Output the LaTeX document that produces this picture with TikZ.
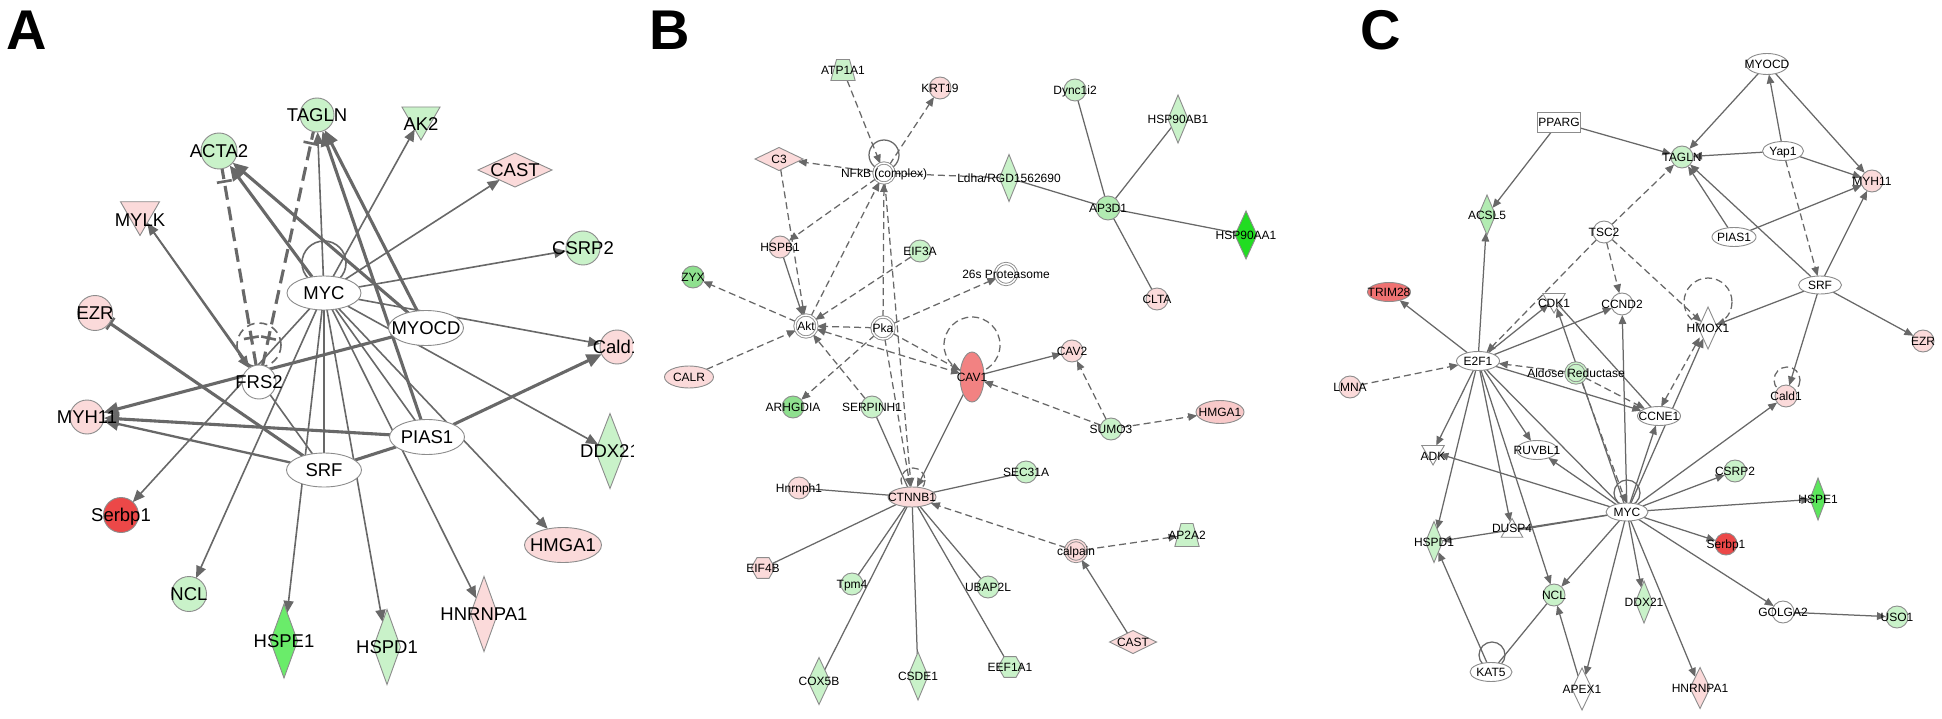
\documentclass[tikz,border=0pt]{standalone}
\usepackage{fontspec}
\setmainfont{Liberation Sans}
\usetikzlibrary{shapes.geometric,arrows.meta,backgrounds,calc}
\definecolor{lg}{HTML}{C9F2C9}
\definecolor{mg}{HTML}{8FE08F}
\definecolor{ag}{HTML}{B2EBB2}
\definecolor{hg}{HTML}{6AEC6A}
\definecolor{bgr}{HTML}{22DD22}
\definecolor{cg}{HTML}{5CE65C}
\definecolor{pk}{HTML}{FBDADA}
\definecolor{pkd}{HTML}{F8C9C9}
\definecolor{rd}{HTML}{EC4848}
\definecolor{cv}{HTML}{F28282}
\definecolor{tr}{HTML}{F07272}
\definecolor{ndc}{HTML}{8C8C8C}
\definecolor{edc}{HTML}{686868}
\tikzset{
  nb/.style={draw=ndc, line width=0.9pt, inner sep=0pt, outer sep=0pt},
  cA/.style={nb, circle, minimum size=#1},
  eA/.style 2 args={nb, ellipse, minimum width=#1, minimum height=#2},
  dA/.style 2 args={nb, diamond, minimum width=#1, minimum height=#2},
  itri/.style={nb, regular polygon, regular polygon sides=3, shape border rotate=180, minimum size=#1},
  utri/.style={nb, regular polygon, regular polygon sides=3, minimum size=#1},
  hexa/.style={nb, regular polygon, regular polygon sides=6, minimum size=#1},
  trap/.style 2 args={nb, trapezium, trapezium left angle=75, trapezium right angle=75, text width=#1, text height=#2, text depth=0pt},
  dcirc/.style={nb, circle, minimum size=#1, double=white, double distance=1.4pt},
  boxn/.style 2 args={nb, rectangle, minimum width=#1, minimum height=#2},
  lA/.style={font=\fontsize{18.5}{20}\selectfont, inner sep=0pt, text height=13.2pt, text depth=0pt},
  lB/.style={font=\fontsize{12}{13}\selectfont, inner sep=0pt, text height=8.6pt, text depth=0pt},
  letter/.style={font=\fontsize{56}{60}\selectfont\bfseries, inner sep=0pt, text height=40pt, text depth=0pt},
  eg/.style={draw=edc, line width=1.6pt},
  ek/.style={draw=edc, line width=3.1pt},
  eb/.style={draw=edc, line width=1.25pt},
  tA/.style={-{Triangle[length=12pt,width=10pt]}},
  tK/.style={-{Triangle[length=15pt,width=13pt]}},
  tB/.style={-{Triangle[length=9pt,width=7.5pt]}},
  tBB/.style={{Triangle[length=9pt,width=7.5pt]}-{Triangle[length=9pt,width=7.5pt]}},
  barnode/.style={sloped, fill=edc, draw=none, inner sep=0pt, minimum width=2.6pt, minimum height=15pt},
  dB/.style={dash pattern=on 7pt off 4pt},
  dK/.style={dash pattern=on 14pt off 7pt}
}
\begin{document}
\begin{tikzpicture}[x=1pt,y=-1pt]
\useasboundingbox (0,0) rectangle (1942,719);
% panel letters
\node[letter] (LA) at (27,30) {A};
\node[letter] (LB) at (670,30) {B};
\node[letter] (LC) at (1381,30) {C};
% ---------------- Panel A ----------------
\begin{scope}
\clip (0,0) rectangle (633,719);
\node[cA=34pt, fill=lg, label={[lA]center:TAGLN}] (A-TAGLN) at (317,115) {};
\node[cA=36pt, fill=lg, label={[lA]center:ACTA2}] (A-ACTA2) at (219,151) {};
\node[itri=44pt, fill=lg, label={[lA,yshift=-6pt]center:AK2}] (A-AK2) at (421,118) {};
\node[dA={74pt}{34pt}, fill=pk, label={[lA]center:CAST}] (A-CAST) at (515,170) {};
\node[itri=45pt, fill=pk, label={[lA,yshift=-7pt]center:MYLK}] (A-MYLK) at (140,213) {};
\node[cA=34pt, fill=lg, label={[lA]center:CSRP2}] (A-CSRP2) at (583,248) {};
\node[eA={74pt}{34pt}, fill=white, label={[lA]center:MYC}] (A-MYC) at (324,293) {};
\node[cA=35pt, fill=pk, label={[lA]center:EZR}] (A-EZR) at (95,313) {};
\node[eA={75pt}{35pt}, fill=white, label={[lA]center:MYOCD}] (A-MYOCD) at (426,328) {};
\node[cA=34pt, fill=white, label={[lA]center:FRS2}] (A-FRS2) at (259,382) {};
\node[cA=34pt, fill=pk, label={[lA]center:MYH11}] (A-MYH11) at (87,417) {};
\node[eA={75pt}{35pt}, fill=white, label={[lA]center:PIAS1}] (A-PIAS1) at (427,437) {};
\node[eA={75pt}{34pt}, fill=white, label={[lA]center:SRF}] (A-SRF) at (324,470) {};
\node[cA=35pt, fill=rd, label={[lA]center:Serbp1}] (A-Serbp1) at (121,515) {};
\node[cA=35pt, fill=lg, label={[lA]center:NCL}] (A-NCL) at (189,594) {};
\node[dA={27pt}{74pt}, fill=hg, label={[lA]center:HSPE1}] (A-HSPE1) at (284,641) {};
\node[dA={27pt}{75pt}, fill=lg, label={[lA]center:HSPD1}] (A-HSPD1) at (387,647) {};
\node[dA={27pt}{75pt}, fill=pk, label={[lA]center:HNRNPA1}] (A-HNRNPA1) at (484,614) {};
\node[eA={77pt}{35pt}, fill=pk, label={[lA]center:HMGA1}] (A-HMGA1) at (563,545) {};
\node[dA={29pt}{75pt}, fill=lg, label={[lA]center:DDX21}] (A-DDX21) at (610,451) {};
\node[cA=34pt, fill=pk, label={[lA]center:Cald1}] (A-Cald1) at (617,347) {};
\end{scope}
% ---------------- Panel B ----------------
\node[trap={13pt}{21pt}, fill=lg, label={[lB]center:ATP1A1}] (B-ATP1A1) at (843,70) {};
\node[cA=22pt, fill=pk, label={[lB]center:KRT19}] (B-KRT19) at (940,88) {};
\node[dA={48pt}{23pt}, fill=pk, label={[lB]center:C3}] (B-C3) at (779,159) {};
\node[dcirc=20pt, fill=white, label={[lB]center:NFkB (complex)}] (B-NFkB) at (884,173) {};
\node[dA={19pt}{47pt}, fill=lg, label={[lB]center:Ldha/RGD1562690}] (B-Ldha) at (1009,178) {};
\node[cA=22pt, fill=pk, label={[lB]center:HSPB1}] (B-HSPB1) at (780,247) {};
\node[cA=22pt, fill=lg, label={[lB]center:EIF3A}] (B-EIF3A) at (920,251) {};
\node[cA=22pt, fill=mg, label={[lB]center:ZYX}] (B-ZYX) at (693,277) {};
\node[dcirc=21pt, fill=white, label={[lB]center:26s Proteasome}] (B-26s) at (1006,274) {};
\node[dcirc=22pt, fill=white, label={[lB]center:Akt}] (B-Akt) at (806,326) {};
\node[dcirc=22pt, fill=white, label={[lB]center:Pka}] (B-Pka) at (883,328) {};
\node[eA={24pt}{50pt}, fill=cv, label={[lB]center:CAV1}] (B-CAV1) at (972,377) {};
\node[eA={49pt}{22pt}, fill=pk, label={[lB]center:CALR}] (B-CALR) at (689,377) {};
\node[cA=22pt, fill=mg, label={[lB]center:ARHGDIA}] (B-ARHGDIA) at (793,407) {};
\node[cA=22pt, fill=lg, label={[lB]center:SERPINH1}] (B-SERPINH1) at (872,407) {};
\node[cA=22pt, fill=pk, label={[lB]center:CAV2}] (B-CAV2) at (1072,351) {};
\node[cA=22pt, fill=lg, label={[lB]center:SUMO3}] (B-SUMO3) at (1111,429) {};
\node[eA={48pt}{23pt}, fill=pkd, label={[lB]center:HMGA1}] (B-HMGA1) at (1220,412) {};
\node[eA={48pt}{20pt}, fill=pk, label={[lB]center:CTNNB1}] (B-CTNNB1) at (912,497) {};
\node[cA=22pt, fill=pk, label={[lB]center:Hnrnph1}] (B-Hnrnph1) at (799,488) {};
\node[cA=22pt, fill=lg, label={[lB]center:SEC31A}] (B-SEC31A) at (1026,472) {};
\node[hexa=24pt, fill=pk, label={[lB]center:EIF4B}] (B-EIF4B) at (763,568) {};
\node[cA=22pt, fill=lg, label={[lB]center:Tpm4}] (B-Tpm4) at (852,584) {};
\node[cA=22pt, fill=lg, label={[lB]center:UBAP2L}] (B-UBAP2L) at (988,587) {};
\node[dcirc=21pt, fill=pk, double=pk, label={[lB]center:calpain}] (B-calpain) at (1076,551) {};
\node[trap={12pt}{23pt}, fill=lg, label={[lB]center:AP2A2}] (B-AP2A2) at (1187,535) {};
\node[dA={22pt}{47pt}, fill=lg, label={[lB]center:COX5B}] (B-COX5B) at (819,681) {};
\node[dA={20pt}{48pt}, fill=lg, label={[lB]center:CSDE1}] (B-CSDE1) at (918,676) {};
\node[hexa=24pt, fill=lg, label={[lB]center:EEF1A1}] (B-EEF1A1) at (1010,667) {};
\node[dA={47pt}{23pt}, fill=pk, label={[lB]center:CAST}] (B-CAST) at (1133,642) {};
\node[cA=22pt, fill=lg, label={[lB]center:Dync1i2}] (B-Dync1i2) at (1075,90) {};
\node[dA={20pt}{48pt}, fill=lg, label={[lB]center:HSP90AB1}] (B-HSP90AB1) at (1178,119) {};
\node[cA=24pt, fill=ag, label={[lB]center:AP3D1}] (B-AP3D1) at (1108,208) {};
\node[dA={22pt}{48pt}, fill=bgr, label={[lB]center:HSP90AA1}] (B-HSP90AA1) at (1246,235) {};
\node[cA=22pt, fill=pk, label={[lB]center:CLTA}] (B-CLTA) at (1157,299) {};
% ---------------- Panel C ----------------
\node[eA={42pt}{21pt}, fill=white, label={[lB]center:MYOCD}] (C-MYOCD) at (1767,64) {};
\node[boxn={43pt}{20pt}, fill=white, label={[lB]center:PPARG}] (C-PPARG) at (1559,122) {};
\node[cA=22pt, fill=lg, label={[lB]center:TAGLN}] (C-TAGLN) at (1682,157) {};
\node[eA={41pt}{19pt}, fill=white, label={[lB]center:Yap1}] (C-Yap1) at (1783,151) {};
\node[cA=22pt, fill=pk, label={[lB]center:MYH11}] (C-MYH11) at (1872,181) {};
\node[dA={17pt}{40pt}, fill=ag, label={[lB]center:ACSL5}] (C-ACSL5) at (1487,215) {};
\node[cA=22pt, fill=white, label={[lB]center:TSC2}] (C-TSC2) at (1604,232) {};
\node[eA={44pt}{19pt}, fill=white, label={[lB]center:PIAS1}] (C-PIAS1) at (1734,237) {};
\node[eA={43pt}{18pt}, fill=white, label={[lB]center:SRF}] (C-SRF) at (1820,285) {};
\node[cA=22pt, fill=pk, label={[lB]center:EZR}] (C-EZR) at (1923,341) {};
\node[eA={43pt}{19pt}, fill=tr, label={[lB]center:TRIM28}] (C-TRIM28) at (1389,292) {};
\node[itri=26pt, fill=white, label={[lB,yshift=-3pt]center:CDK1}] (C-CDK1) at (1554,300) {};
\node[cA=22pt, fill=white, label={[lB]center:CCND2}] (C-CCND2) at (1622,304) {};
\node[dA={19pt}{42pt}, fill=white, label={[lB]center:HMOX1}] (C-HMOX1) at (1708,328) {};
\node[eA={43pt}{19pt}, fill=white, label={[lB]center:E2F1}] (C-E2F1) at (1478,361) {};
\node[cA=22pt, fill=pk, label={[lB]center:LMNA}] (C-LMNA) at (1350,387) {};
\node[dcirc=20pt, fill=lg, double=lg, label={[lB]center:Aldose Reductase}] (C-AR) at (1576,373) {};
\node[eA={43pt}{19pt}, fill=white, label={[lB]center:CCNE1}] (C-CCNE1) at (1659,416) {};
\node[cA=22pt, fill=pk, label={[lB]center:Cald1}] (C-Cald1) at (1786,396) {};
\node[itri=26pt, fill=white, label={[lB,yshift=-4pt]center:ADK}] (C-ADK) at (1433,452) {};
\node[eA={41pt}{19pt}, fill=white, label={[lB]center:RUVBL1}] (C-RUVBL1) at (1537,450) {};
\node[cA=22pt, fill=lg, label={[lB]center:CSRP2}] (C-CSRP2) at (1735,471) {};
\node[dA={16pt}{42pt}, fill=cg, label={[lB]center:HSPE1}] (C-HSPE1) at (1818,499) {};
\node[eA={42pt}{18pt}, fill=white, label={[lB]center:MYC}] (C-MYC) at (1627,512) {};
\node[utri=25pt, fill=white, label={[lB,yshift=3pt]center:DUSP4}] (C-DUSP4) at (1512,531) {};
\node[dA={17pt}{41pt}, fill=lg, label={[lB]center:HSPD1}] (C-HSPD1) at (1434,542) {};
\node[cA=22pt, fill=rd, label={[lB]center:Serbp1}] (C-Serbp1) at (1726,544) {};
\node[cA=22pt, fill=lg, label={[lB]center:NCL}] (C-NCL) at (1554,595) {};
\node[dA={17pt}{42pt}, fill=lg, label={[lB]center:DDX21}] (C-DDX21) at (1644,602) {};
\node[cA=22pt, fill=white, label={[lB]center:GOLGA2}] (C-GOLGA2) at (1783,612) {};
\node[cA=22pt, fill=lg, label={[lB]center:USO1}] (C-USO1) at (1897,617) {};
\node[eA={42pt}{19pt}, fill=white, label={[lB]center:KAT5}] (C-KAT5) at (1491,672) {};
\node[dA={20pt}{42pt}, fill=white, label={[lB]center:APEX1}] (C-APEX1) at (1582,689) {};
\node[dA={20pt}{41pt}, fill=pk, label={[lB]center:HNRNPA1}] (C-HNRNPA1) at (1700,688) {};

% ---------------- Edges ----------------
\begin{scope}[on background layer]
\fill[white] (0,0) rectangle (1942,719);
% ===== A =====
\draw[ek,tK] (A-MYC) -- (A-ACTA2);
\draw[ek,tK] (A-MYOCD) -- (A-ACTA2);
\draw[ek,tK] (A-MYOCD) -- (A-TAGLN);
\draw[ek,tK] (A-PIAS1) -- (A-TAGLN);
\draw[ek,tK] (A-MYOCD) -- (A-MYH11);
\draw[ek,tK] (A-PIAS1) -- (A-MYH11);
\draw[ek,tK,line width=2.3pt] (A-SRF) -- (A-MYH11);
\draw[ek,-{Bar[width=14pt,line width=2.5pt]}] (A-SRF) -- (A-EZR);
\draw[ek,tK] (A-PIAS1) -- (A-Cald1);
\draw[ek] (A-SRF) -- (A-PIAS1);
\draw[ek,dK] (A-FRS2) -- (A-ACTA2)
  node[barnode,pos=0.14] (A-b1) {} node[barnode,pos=0.935] (A-b2) {};
\draw[ek,dK] (A-FRS2) -- (A-TAGLN)
  node[barnode,pos=0.117] (A-b3) {} node[barnode,pos=0.95] (A-b4) {};
\draw[eg,tA] (A-MYC) -- (A-TAGLN);
\draw[eg,tA] (A-MYC) -- (A-AK2);
\draw[eg,tA] (A-MYC) -- (A-CAST);
\draw[eg,tA] (A-MYC) -- (A-CSRP2);
\draw[eg,tA] (A-MYC) -- (A-Cald1);
\draw[eg,tA] (A-MYC) -- (A-DDX21);
\draw[eg,tA] (A-MYC) -- (A-HMGA1);
\draw[eg,tA] (A-MYC) -- (A-HNRNPA1);
\draw[eg,tA] (A-MYC) -- (A-HSPD1);
\draw[eg,tA] (A-MYC) -- (A-HSPE1);
\draw[eg,tA] (A-MYC) -- (A-NCL);
\draw[eg,tA] (A-MYC) -- (A-Serbp1);
\draw[eg,tA] (A-SRF) -- (A-MYLK);
\draw[eg,tA] (A-MYLK) -- (A-FRS2);
\draw[eg] (A-MYC) -- (A-SRF);
\draw[eg] (A-MYC) -- (A-PIAS1);
\draw[eg] ($(A-MYC)+(0,-30)$) circle[radius=22];
\draw[eg,dash pattern=on 8pt off 5pt] ($(A-FRS2)+(0,-37)$) circle[radius=22];
% ===== B =====
\draw[eb,dB,tB] (B-ATP1A1) -- (B-NFkB);
\draw[eb,dB,tB] (B-NFkB) -- (B-KRT19);
\draw[eb,dB,tB] (B-NFkB) -- (B-C3);
\draw[eb,dB] (B-NFkB) -- (B-Ldha);
\draw[eb] (B-Ldha) -- (B-AP3D1);
\draw[eb,dB,tB] (B-C3) -- (B-Akt);
\draw[eb,dB,tB] (B-NFkB) -- (B-HSPB1);
\draw[eb,tB] (B-HSPB1) -- (B-Akt);
\draw[eb,dB,tB] (B-Akt) -- (B-NFkB);
\draw[eb,dB,tB] (B-Pka) -- (B-NFkB);
\draw[eb,dB,tB] (B-EIF3A) -- (B-Akt);
\draw[eb,dB,tB] (B-Akt) -- (B-ZYX);
\draw[eb,dB,tB] (B-Pka) -- (B-Akt);
\draw[eb,dB,tB] (B-Pka) -- (B-26s);
\draw[eb,dB,tB] (B-CALR) -- (B-Akt);
\draw[eb,dB,tB] (B-Pka) -- (B-ARHGDIA);
\draw[eb,dB,tB] (B-SERPINH1) -- (B-Akt);
\draw[eb,dB,tBB] (B-Akt) -- (B-CAV1);
\draw[eb,dB,tB] (B-Pka) -- (B-CAV1);
\draw[eb,dB,tB] (B-Pka) -- (B-CTNNB1);
\draw[eb,dB,tB] (B-NFkB) -- (B-CTNNB1);
\draw[eb] (B-SERPINH1) -- (B-CTNNB1);
\draw[eb,tB] (B-CAV1) -- (B-CTNNB1);
\draw[eb,tB] (B-CAV1) -- (B-CAV2);
\draw[eb,dB,tB] (B-SUMO3) -- (B-CAV1);
\draw[eb,dB,tB] (B-SUMO3) -- (B-CAV2);
\draw[eb,dB,tB] (B-SUMO3) -- (B-HMGA1);
\draw[eb,dB,tB] (B-calpain) -- (B-CTNNB1);
\draw[eb,dB,tB] (B-calpain) -- (B-AP2A2);
\draw[eb,tB] (B-CAST) -- (B-calpain);
\draw[eb] (B-CTNNB1) -- (B-Hnrnph1);
\draw[eb] (B-CTNNB1) -- (B-SEC31A);
\draw[eb] (B-CTNNB1) -- (B-EIF4B);
\draw[eb] (B-CTNNB1) -- (B-Tpm4);
\draw[eb] (B-CTNNB1) -- (B-UBAP2L);
\draw[eb] (B-CTNNB1) -- (B-COX5B);
\draw[eb] (B-CTNNB1) -- (B-CSDE1);
\draw[eb] (B-CTNNB1) -- (B-EEF1A1);
\draw[eb] (B-AP3D1) -- (B-Dync1i2);
\draw[eb] (B-AP3D1) -- (B-HSP90AB1);
\draw[eb] (B-AP3D1) -- (B-HSP90AA1);
\draw[eb] (B-AP3D1) -- (B-CLTA);
\draw[eb] ($(B-NFkB)+(0,-18)$) circle[radius=15];
\draw[eb,dB] ($(B-CAV1)+(0,-32)$) circle[radius=28];
\draw[eb,dB] ($(B-CTNNB1)+(1,-17)$) circle[radius=12];
% ===== C =====
\draw[eb,tB] (C-MYOCD) -- (C-TAGLN);
\draw[eb,tB] (C-MYOCD) -- (C-MYH11);
\draw[eb,tB] (C-Yap1) -- (C-MYOCD);
\draw[eb,tB] (C-Yap1) -- (C-TAGLN);
\draw[eb,tB] (C-Yap1) -- (C-MYH11);
\draw[eb,dB,tB] (C-Yap1) -- (C-SRF);
\draw[eb,tB] (C-PPARG) -- (C-TAGLN);
\draw[eb,tB] (C-PPARG) -- (C-ACSL5);
\draw[eb,tB] (C-PIAS1) -- (C-TAGLN);
\draw[eb,tB] (C-PIAS1) -- (C-MYH11);
\draw[eb,tB] (C-SRF) -- (C-TAGLN);
\draw[eb,tB] (C-SRF) -- (C-MYH11);
\draw[eb,tB] (C-SRF) -- (C-HMOX1);
\draw[eb,tB] (C-SRF) -- (C-EZR);
\draw[eb,tB] (C-SRF) -- (C-Cald1);
\draw[eb,dB,tB] (C-TSC2) -- (C-TAGLN);
\draw[eb,dB,tB] (C-TSC2) -- (C-CCND2);
\draw[eb,dB,tB] (C-TSC2) -- (C-HMOX1);
\draw[eb,dB,tB] (C-TSC2) -- (C-E2F1);
\draw[eb,tB] (C-E2F1) -- (C-TRIM28);
\draw[eb,tB] (C-E2F1) -- (C-ACSL5);
\draw[eb,dB,tB] (C-LMNA) -- (C-E2F1);
\draw[eb,tB] (C-E2F1) -- (C-CDK1);
\draw[eb,tB] (C-E2F1) -- (C-CCND2);
\draw[eb,dB,tB] (C-AR) -- (C-E2F1);
\draw[eb,dB,tB] (C-AR) -- (C-CCNE1);
\draw[eb,tB] (C-E2F1) -- (C-CCNE1);
\draw[eb,tB] (C-E2F1) -- (C-ADK);
\draw[eb,tB] (C-E2F1) -- (C-RUVBL1);
\draw[eb,tB] (C-E2F1) -- (C-HSPD1);
\draw[eb,tB] (C-E2F1) -- (C-DUSP4);
\draw[eb,tB] (C-E2F1) -- (C-NCL);
\draw[eb] (C-E2F1) -- (C-MYC);
\draw[eb,tB] (C-MYC) -- (C-CDK1);
\draw[eb,dB,tB,transform canvas={xshift=2.5pt}] (C-AR) -- (C-MYC);
\draw[eb] (C-CDK1) -- (C-CCNE1);
\draw[eb,tB] (C-MYC) -- (C-CCND2);
\draw[eb,tB] (C-MYC) -- (C-CCNE1);
\draw[eb,tB] (C-MYC) -- (C-HMOX1);
\draw[eb,dB,tBB,transform canvas={xshift=-3pt}] (C-HMOX1) -- (C-CCNE1);
\draw[eb,tB] (C-MYC) -- (C-Cald1);
\draw[eb,tB] (C-MYC) -- (C-CSRP2);
\draw[eb,tB] (C-MYC) -- (C-HSPE1);
\draw[eb,tB] (C-MYC) -- (C-Serbp1);
\draw[eb,tB] (C-MYC) -- (C-GOLGA2);
\draw[eb,tB] (C-GOLGA2) -- (C-USO1);
\draw[eb,tB] (C-MYC) -- (C-DDX21);
\draw[eb,tB] (C-MYC) -- (C-HNRNPA1);
\draw[eb,tB] (C-MYC) -- (C-APEX1);
\draw[eb,tB] (C-MYC) -- (C-NCL);
\draw[eb,tB] (C-APEX1) -- (C-NCL);
\draw[eb] (C-KAT5) -- (C-NCL);
\draw[eb,tB] (C-KAT5) -- (C-HSPD1);
\draw[eb] (C-MYC) -- (C-DUSP4);
\draw[eb,tB] (C-MYC) -- (C-HSPD1);
\draw[eb,tB] (C-MYC) -- (C-ADK);
\draw[eb,tB] (C-MYC) -- (C-RUVBL1);
\draw[eb,dB] ($(C-HMOX1)+(0,-26)$) circle[radius=24];
\draw[eb,dB] ($(C-Cald1)+(1,-16)$) circle[radius=13];
\draw[eb] ($(C-MYC)+(0,-19)$) circle[radius=13];
\draw[eb] ($(C-KAT5)+(1,-17)$) circle[radius=13];
\end{scope}
\end{tikzpicture}
\end{document}
